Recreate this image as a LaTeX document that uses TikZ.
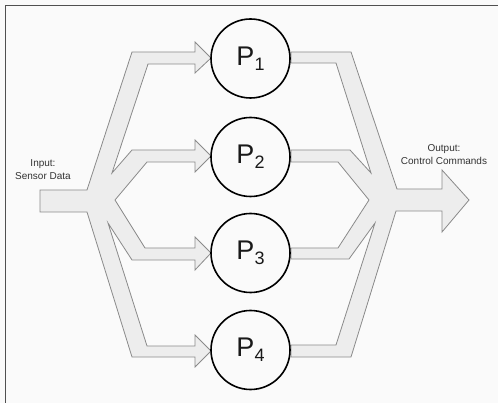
\documentclass[tikz,border=0pt]{standalone}
\usepackage{fontspec}
\setmainfont{Liberation Sans}
\definecolor{bg}{HTML}{FAFAFA}
\definecolor{arrowfill}{HTML}{EDEDED}
\definecolor{arrowline}{HTML}{8A8A8A}
\definecolor{framec}{HTML}{505050}
\definecolor{txt}{HTML}{333333}
\newcommand\proclabel[1]{{\fontsize{27}{27}\selectfont P\raisebox{-5pt}{\fontsize{18}{18}\selectfont #1}}}
\begin{document}
\begin{tikzpicture}[x=1pt,y=-1pt,
  flow/.style={fill=arrowfill,draw=arrowline,line width=0.8pt,line join=miter},
  proc/.style={circle,draw=black,line width=1.6pt,fill=bg,minimum size=79pt,inner sep=0pt,text=black!90},
  lbl/.style={align=center,text=txt,font=\fontsize{10}{13}\selectfont}]
\useasboundingbox (0,0) rectangle (498,403);
\fill[bg] (0,0) rectangle (498,403);
\draw[framec,line width=1.2pt] (5.5,403) -- (5.5,5.5) -- (498,5.5);

% input splitter
\draw[flow] (40,190) -- (87,190) -- (132,52) -- (195,52) -- (195,42) -- (211,58) -- (195,73) -- (195,64)
  -- (148,64) -- (112,173) -- (132,150) -- (195,150) -- (195,140) -- (211,156) -- (195,172) -- (195,162)
  -- (147,162) -- (115,200) -- (145,248) -- (195,248) -- (195,237) -- (211,253) -- (195,270) -- (195,260)
  -- (132,260) -- (108,223) -- (147,346) -- (195,346) -- (195,335) -- (211,351) -- (195,367) -- (195,357)
  -- (132,357) -- (87,212) -- (40,212) -- cycle;

% output merger
\draw[flow] (291,52) -- (351,52) -- (397,189) -- (442,189) -- (442,170) -- (469,200) -- (442,232) -- (442,211)
  -- (396,211) -- (351,357) -- (291,357) -- (291,345) -- (336,345) -- (375,223) -- (349,259) -- (291,259)
  -- (291,248) -- (338,248) -- (369,200) -- (338,162) -- (291,162) -- (291,150) -- (350,150) -- (371,173)
  -- (336,63) -- (291,63) -- cycle;

\node[proc] (p1) at (250.5,58.5) {\proclabel{1}};
\node[proc] (p2) at (250.5,157) {\proclabel{2}};
\node[proc] (p3) at (250.5,253) {\proclabel{3}};
\node[proc] (p4) at (250.5,350) {\proclabel{4}};

\node[lbl] (in) at (43,170) {Input:\\Sensor Data};
\node[lbl] (out) at (444,155) {Output:\\Control Commands};
\end{tikzpicture}
\end{document}
